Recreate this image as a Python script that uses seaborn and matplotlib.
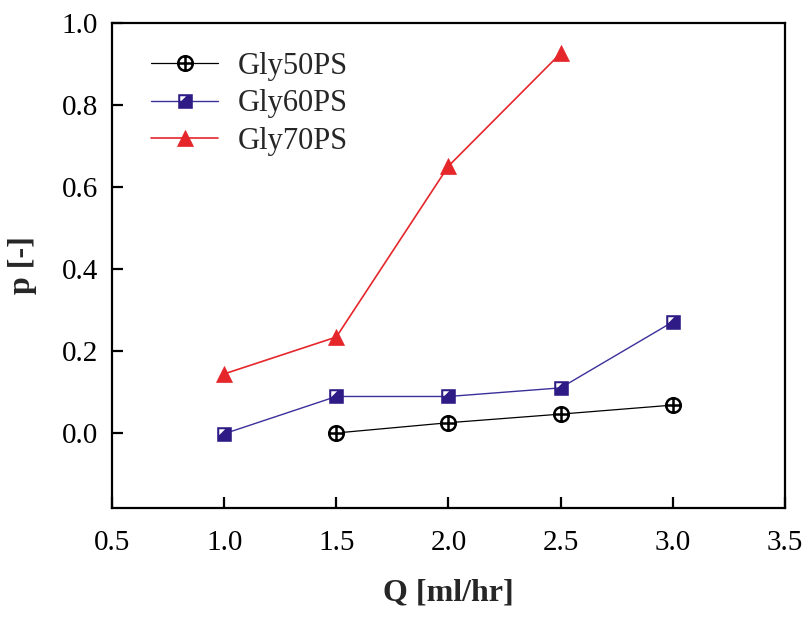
import numpy as np
import pandas as pd
import matplotlib
matplotlib.use("Agg")
import matplotlib.pyplot as plt
from matplotlib.path import Path
import seaborn as sns

# Flow rate Q [ml/hr] and probability p [-] per glycerol mixture
q_gly50 = [1.5, 2.0, 2.5, 3.0]
p_gly50 = [0.0, 0.025, 0.046, 0.068]

q_gly60 = [1.0, 1.5, 2.0, 2.5, 3.0]
p_gly60 = [-0.002, 0.089, 0.089, 0.110, 0.271]

q_gly70 = [1.0, 1.5, 2.0, 2.5]
p_gly70 = [0.144, 0.234, 0.651, 0.926]

labels = ["Gly50PS", "Gly60PS", "Gly70PS"]
x_ticks = [0.5, 1.0, 1.5, 2.0, 2.5, 3.0, 3.5]
y_ticks = [0.0, 0.2, 0.4, 0.6, 0.8, 1.0]

sns.set_theme(style="white")
plt.rcParams["font.family"] = ["Liberation Serif", "DejaVu Serif"]

# circle with a cross inside
circ = Path.unit_circle()
cross_verts = np.array([[-1, 0], [1, 0], [0, -1], [0, 1]])
cross_codes = [Path.MOVETO, Path.LINETO, Path.MOVETO, Path.LINETO]
oplus = Path(np.concatenate([circ.vertices, cross_verts]),
             np.concatenate([circ.codes, cross_codes]))

# filled square with a small white triangle cut from the upper-left corner
# (the hole runs opposite to the outline so it stays unfilled)
sq = [[-1, -1], [1, -1], [1, 1], [-1, 1], [-1, -1]]
tri = [[-0.72, 0.72], [0.08, 0.72], [-0.72, -0.08], [-0.72, 0.72]]
sq_tri = Path(np.array(sq + tri, dtype=float),
              [Path.MOVETO] + [Path.LINETO] * 3 + [Path.CLOSEPOLY]
              + [Path.MOVETO] + [Path.LINETO] * 2 + [Path.CLOSEPOLY])

df50 = pd.DataFrame({"Q": q_gly50, "p": p_gly50})
df60 = pd.DataFrame({"Q": q_gly60, "p": p_gly60})
df70 = pd.DataFrame({"Q": q_gly70, "p": p_gly70})

fig = plt.figure(figsize=(8.09, 6.18), dpi=100)
ax = fig.add_axes([0.1384, 0.178, 0.8319, 0.7848])

sns.lineplot(data=df50, x="Q", y="p", ax=ax, color="black", lw=0.9,
             marker=oplus, markersize=10.5, markerfacecolor="white",
             markeredgecolor="black", markeredgewidth=1.8, label=labels[0])
sns.lineplot(data=df60, x="Q", y="p", ax=ax, color="#3b2f9a", lw=1.0,
             marker=sq_tri, markersize=10.5, markerfacecolor="#2e1b85",
             markeredgecolor="none", markeredgewidth=0, label=labels[1])
sns.lineplot(data=df70, x="Q", y="p", ax=ax, color="#e5262b", lw=1.2,
             marker="^", markersize=12, markerfacecolor="#e5262b",
             markeredgecolor="#e5262b", markeredgewidth=0.5, label=labels[2])

ax.set_xlim(0.5, 3.5)
ax.set_ylim(-0.183, 1.0)
ax.set_xticks(x_ticks)
ax.set_yticks(y_ticks)
ax.set_xticklabels([f"{v:.1f}" for v in x_ticks])
ax.set_yticklabels([f"{v:.1f}" for v in y_ticks])

for s in ax.spines.values():
    s.set_linewidth(1.6)
    s.set_color("black")
ax.tick_params(direction="in", length=8, width=1.6, labelsize=21,
               colors="black", bottom=True, left=True, top=False, right=False)
ax.tick_params(axis="x", pad=16)
ax.tick_params(axis="y", pad=10)

ax.set_xlabel("Q [ml/hr]", fontsize=23, fontweight="bold", labelpad=16)
ax.set_ylabel("p [-]", fontsize=23, fontweight="bold", labelpad=18)

leg = ax.legend(loc="upper left", bbox_to_anchor=(0.04, 0.966), frameon=False,
                fontsize=22, handlelength=2.2, handletextpad=0.62,
                labelspacing=0.28, borderaxespad=0.0)

fig.savefig("out.png", dpi=100, facecolor="white")
